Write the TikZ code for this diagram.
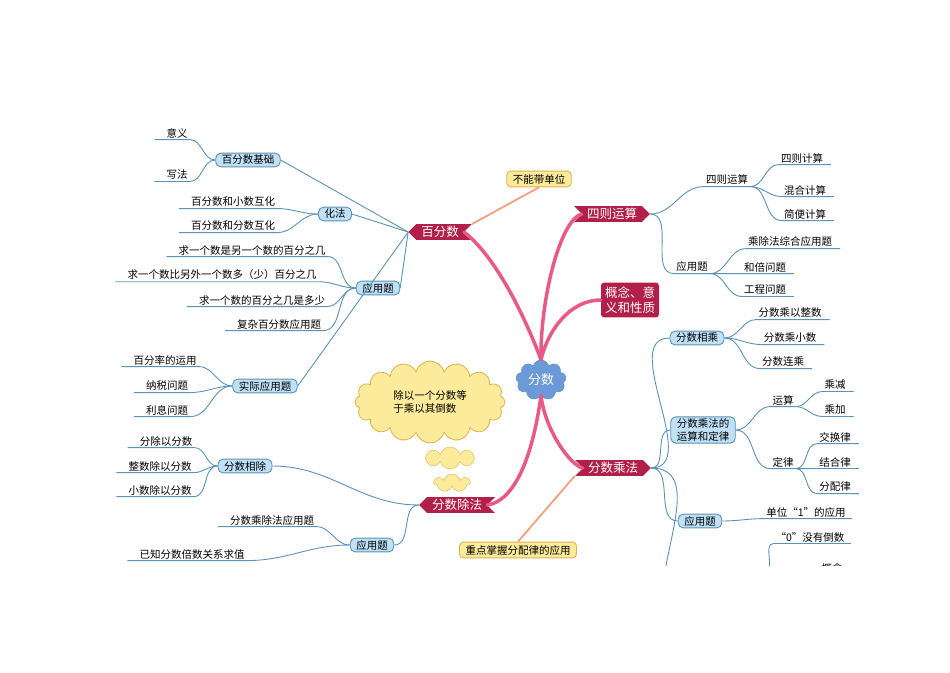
\documentclass[tikz,border=0pt]{standalone}
\usepackage{fontspec}
\setmainfont{Noto Sans CJK SC}
\usetikzlibrary{shapes.symbols,shapes.misc}
\definecolor{bline}{HTML}{5A93B5}
\definecolor{bfill}{HTML}{BFE0F5}
\definecolor{rtag}{HTML}{B02048}
\definecolor{pinkb}{HTML}{E85A85}
\definecolor{yfill}{HTML}{FCEB9A}
\definecolor{yline}{HTML}{E0B050}
\definecolor{orl}{HTML}{F0A080}
\begin{document}
\begin{tikzpicture}[x=1pt,y=-1pt,
  every node/.style={font=\fontsize{10.5}{12.5}\selectfont, inner sep=1.5pt},
  bl/.style={draw=bline, line width=0.9pt},
  pk/.style={draw=pinkb, line width=3.5pt, line cap=round},
  bbox/.style={draw=bline, fill=bfill, rounded corners=5pt, line width=0.9pt, inner xsep=6pt, inner ysep=2pt},
  rtl/.style={signal, signal to=west, signal from=east, fill=rtag, text=white, font=\fontsize{12.5}{14}\selectfont, inner xsep=5pt, inner ysep=2pt},
  rtr/.style={signal, signal to=east, signal from=west, fill=rtag, text=white, font=\fontsize{12.5}{14}\selectfont, inner xsep=5pt, inner ysep=2pt},
  ybox/.style={draw=yline, fill=yfill, rounded corners=4pt, line width=0.9pt, inner xsep=6pt, inner ysep=3pt},
  leaf/.style={inner xsep=2pt, inner ysep=1.5pt}]
\useasboundingbox (0,0) rectangle (950,672);
\begin{scope}
\clip (90,110) rectangle (880,565);
% center
\node[cloud, cloud puffs=9, aspect=1.5, fill=cyan!50!blue!60, draw=bline, text=white, font=\fontsize{13}{15}\selectfont, inner sep=3pt] (c) at (541,380) {分数};
% main tags
\node[rtl] (bfs) at (440,232) {百分数};
\node[rtr] (szys) at (612,214) {四则运算};
\node[fill=rtag, text=white, rounded corners=3pt, align=center, font=\fontsize{12.5}{15}\selectfont, inner sep=4pt] (gn) at (630,300) {概念、意\\义和性质};
\node[rtr] (fscf) at (613,468) {分数乘法};
\node[rtl] (fscu) at (457,505) {分数除法};
\node[ybox] (bndw) at (539,179) {不能带单位};
\node[ybox] (zd) at (518,550) {重点掌握分配律的应用};
% thought cloud
\node[cloud, cloud puffs=16, aspect=1.8, fill=yfill, draw=yline, line width=0.8pt, align=left, minimum width=150pt, minimum height=82pt] (th) at (430,402) {除以一个分数等\\于乘以其倒数};
\node[cloud, cloud puffs=8, aspect=2, fill=yfill, draw=yline, minimum width=50pt, minimum height=22pt] (t1) at (450,458) {};
\node[cloud, cloud puffs=7, aspect=1.8, fill=yfill, draw=yline, minimum width=36pt, minimum height=18pt] (t2) at (452,483) {};
% pink trunks
\draw[pk] (c.north) .. controls (530,330) and (500,260) .. (bfs.east);
\draw[pk] (c.north) .. controls (540,300) and (560,220) .. (szys.west);
\draw[pk] (c.north) .. controls (548,330) and (570,300) .. (gn.west);
\draw[pk] (c.south) .. controls (545,430) and (570,465) .. (fscf.west);
\draw[pk] (c.south) .. controls (535,440) and (520,500) .. (fscu.east);
\draw[draw=orl, line width=1.8pt] (bfs.north east) -- (bndw.south);
\draw[draw=orl, line width=1.8pt] (fscf.south west) -- (zd.north);
% ---- left: 百分数 ----
\node[bbox] (jc) at (248,160) {百分数基础};
\node[bbox] (hf) at (335,214) {化法};
\node[bbox] (yy) at (378,288) {应用题};
\node[bbox] (sj) at (265,386) {实际应用题};
\foreach \n in {jc,hf,yy,sj} \draw[bl] (bfs.west) -- (\n.east);
\node[leaf] (l1) at (177,133) {意义};
\node[leaf] (l2) at (177,175) {写法};
\node[leaf] (l3) at (233,202) {百分数和小数互化};
\node[leaf] (l4) at (233,226) {百分数和分数互化};
\node[leaf] (l5) at (252,250) {求一个数是另一个数的百分之几};
\node[leaf] (l6) at (222,275) {求一个数比另外一个数多（少）百分之几};
\node[leaf] (l7) at (262,300) {求一个数的百分之几是多少};
\node[leaf] (l8) at (279,324) {复杂百分数应用题};
\node[leaf] (l9) at (165,360) {百分率的运用};
\node[leaf] (l10) at (167,386) {纳税问题};
\node[leaf] (l11) at (167,410) {利息问题};
\foreach \p/\l in {jc/l1,jc/l2,hf/l3,hf/l4,yy/l5,yy/l6,yy/l7,yy/l8,sj/l9,sj/l10,sj/l11} {
  \draw[bl] ([xshift=-10pt]\l.south west) -- (\l.south east) to[out=0,in=180] (\p.west);
}
% ---- left: 分数除法 ----
\node[bbox] (xc) at (245,466) {分数相除};
\node[bbox] (yy2) at (372,545) {应用题};
\draw[bl] (fscu.west) to[out=180,in=0] (xc.east);
\draw[bl] (fscu.west) to[out=180,in=0] (yy2.east);
\node[leaf] (m1) at (166,441) {分除以分数};
\node[leaf] (m2) at (160,466) {整数除以分数};
\node[leaf] (m3) at (160,490) {小数除以分数};
\node[leaf] (m4) at (272,520) {分数乘除法应用题};
\node[leaf] (m5) at (192,554) {已知分数倍数关系求值};
\foreach \p/\l in {xc/m1,xc/m2,xc/m3,yy2/m4,yy2/m5} {
  \draw[bl] ([xshift=-10pt]\l.south west) -- (\l.south east) to[out=0,in=180] (\p.west);
}
% ---- right: 四则运算 ----
\node[leaf] (r1) at (727,180) {四则运算};
\node[leaf] (r2) at (692,267) {应用题};
\draw[bl] (szys.east) to[out=0,in=180] (r1.south west) -- (r1.south east);
\draw[bl] (szys.east) to[out=0,in=180] (r2.south west) -- (r2.south east);
\node[leaf] (s1) at (802,158) {四则计算};
\node[leaf] (s2) at (805,190) {混合计算};
\node[leaf] (s3) at (805,214) {简便计算};
\node[leaf] (s4) at (790,242) {乘除法综合应用题};
\node[leaf] (s5) at (765,267) {和倍问题};
\node[leaf] (s6) at (765,290) {工程问题};
\foreach \p/\l in {r1/s1,r1/s2,r1/s3,r2/s4,r2/s5,r2/s6} {
  \draw[bl] (\p.south east) to[out=0,in=180] (\l.south west) -- ([xshift=6pt]\l.south east);
}
% ---- right: 分数乘法 ----
\node[bbox] (xs) at (697,338) {分数相乘};
\node[bbox, align=left] (yd) at (703,430) {分数乘法的\\运算和定律};
\node[bbox] (yy3) at (700,521) {应用题};
\coordinate (down) at (662,600);
\foreach \n in {xs,yd,yy3} \draw[bl] (fscf.east) to[out=0,in=180] (\n.west);
\draw[bl] (fscf.east) to[out=0,in=90] (down);
\node[leaf] (t1a) at (790,313) {分数乘以整数};
\node[leaf] (t2a) at (790,338) {分数乘小数};
\node[leaf] (t3a) at (783,362) {分数连乘};
\foreach \l in {t1a,t2a,t3a} \draw[bl] (xs.east) to[out=0,in=180] (\l.south west) -- ([xshift=6pt]\l.south east);
\node[leaf] (ys) at (783,400) {运算};
\node[leaf] (dl) at (783,462) {定律};
\draw[bl] (yd.east) to[out=0,in=180] (ys.south west) -- (ys.south east);
\draw[bl] (yd.east) to[out=0,in=180] (dl.south west) -- (dl.south east);
\node[leaf] (u1) at (835,385) {乘减};
\node[leaf] (u2) at (835,410) {乘加};
\node[leaf] (u3) at (835,437) {交换律};
\node[leaf] (u4) at (835,462) {结合律};
\node[leaf] (u5) at (835,487) {分配律};
\foreach \p/\l in {ys/u1,ys/u2,dl/u3,dl/u4,dl/u5} \draw[bl] (\p.south east) to[out=0,in=180] (\l.south west) -- ([xshift=6pt]\l.south east);
\node[leaf] (v1) at (806,512) {单位“1”的应用};
\draw[bl] (yy3.east) to[out=0,in=180] (v1.south west) -- ([xshift=4pt]v1.south east);
\node[leaf] (v2) at (810,537) {“0”没有倒数};
\node[leaf] (v3) at (832,568) {概念};
\coordinate (br) at (765,570);
\draw[bl] (v2.south west) -- ([xshift=4pt]v2.south east);
\draw[bl] (br) to[out=0,in=180] (v2.south west);
\end{scope}
\end{tikzpicture}
\end{document}
